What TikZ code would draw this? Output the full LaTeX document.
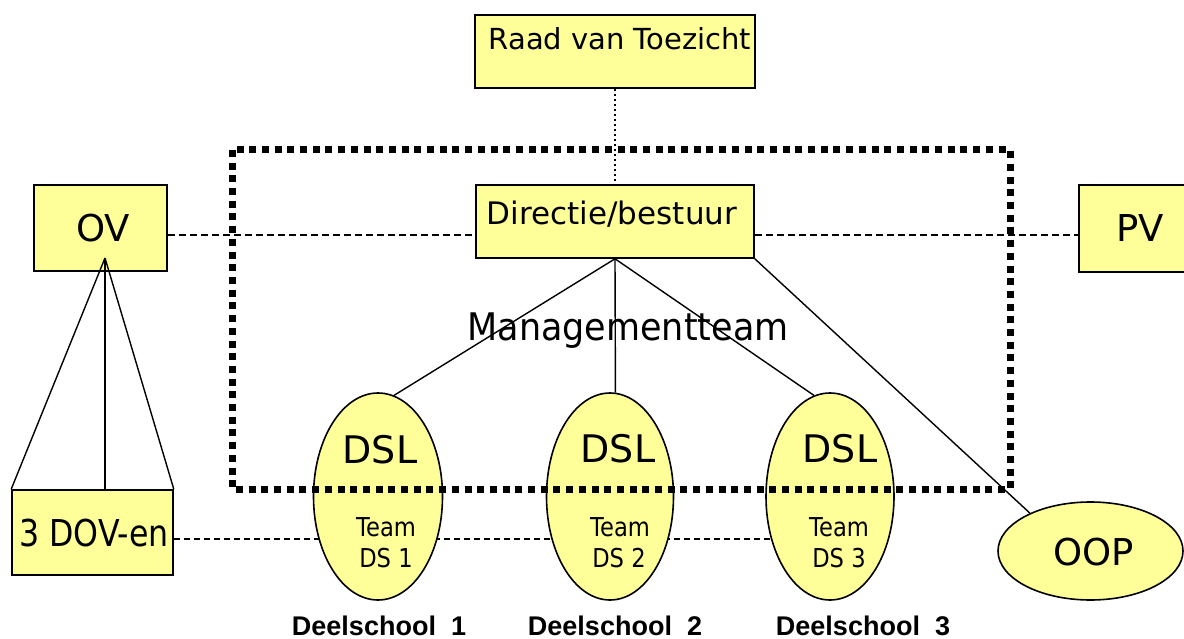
\documentclass[tikz,border=0pt]{standalone}
\usepackage{fontspec}
\setmainfont{DejaVu Sans}
\newfontfamily\labfont{Liberation Sans}
\usetikzlibrary{shapes.geometric}
\definecolor{yel}{HTML}{FFFF99}
\newcommand{\fsz}[1]{\fontsize{#1}{#1}\selectfont}
\begin{document}
\begin{tikzpicture}[x=1pt,y=-1pt,
  box/.style={rectangle, draw=black, line width=1.6pt, fill=yel, inner sep=0pt},
  ell/.style={ellipse, draw=black, line width=1.6pt, fill=yel, inner sep=0pt},
  txt/.style={anchor=base, inner sep=0pt},
  link/.style={line width=1.4pt},
  middash/.style={line width=2pt, dash pattern=on 7pt off 4pt},
  lowdash/.style={line width=1.4pt, dash pattern=on 6pt off 4pt},
  smalldot/.style={line width=2pt, dash pattern=on 2pt off 3pt},
  mtframe/.style={line width=7pt, dash pattern=on 7pt off 5.7pt}]
\useasboundingbox (0,0) rectangle (1184,639);
\clip (0,0) rectangle (1184,639);

% boxes
\node[box, minimum width=280pt, minimum height=73pt] (raad) at (615,51.5) {};
\node[box, minimum width=278pt, minimum height=73pt] (dir) at (615,221.5) {};
\node[box, minimum width=133pt, minimum height=86pt] (ov) at (100.5,228) {};
\node[box, minimum width=133pt, minimum height=87pt] (pv) at (1145.5,228.5) {};
\node[box, minimum width=161pt, minimum height=85pt] (dov) at (92.5,532.5) {};

% lower dashed line (behind ellipses)
\coordinate (tl) at (800,539);
\draw[lowdash] (dov.east |- tl) -- (tl);

% ellipses
\node[ell, minimum width=129pt, minimum height=207pt] (d1) at (378,496.5) {};
\node[ell, minimum width=127pt, minimum height=207pt] (d2) at (610,496.5) {};
\node[ell, minimum width=128pt, minimum height=207pt] (d3) at (830,496.5) {};
\node[ell, minimum width=185pt, minimum height=98pt] (oop) at (1090.5,551) {};

% texts
\node[txt] (traad) at (620,50) {\fsz{29}Raad van Toezicht};
\node[txt] (tdir) at (612,225) {\fsz{31}Directie/bestuur};
\node[txt] (tov) at (103,242) {\fsz{37}OV};
\node[txt] (tpv) at (1140,242) {\fsz{37}PV};
\node[txt] (tdov) at (94,546) {\fsz{37}\scalebox{0.855}[1]{3 DOV-en}};
\node[txt] (tmt) at (628,341) {\fsz{38}\scalebox{0.92}[1]{Managementteam}};
\node[txt] (tdsl1) at (380,463) {\fsz{38}DSL};
\node[txt] (tdsl2) at (618,462) {\fsz{38}DSL};
\node[txt] (tdsl3) at (840,462) {\fsz{38}DSL};
\node[txt] (tteam1) at (386,536) {\fsz{26}\scalebox{0.87}[1]{Team}};
\node[txt] (tds1) at (386,567) {\fsz{26}\scalebox{0.87}[1]{DS 1}};
\node[txt] (tteam2) at (620,536) {\fsz{26}\scalebox{0.87}[1]{Team}};
\node[txt] (tds2) at (619,567) {\fsz{26}\scalebox{0.87}[1]{DS 2}};
\node[txt] (tteam3) at (839,536) {\fsz{26}\scalebox{0.87}[1]{Team}};
\node[txt] (tds3) at (839,567) {\fsz{26}\scalebox{0.87}[1]{DS 3}};
\node[txt] (toop) at (1094,565) {\fsz{37}OOP};
\node[txt] (lab1) at (379,635) {\labfont\bfseries\fsz{27}Deelschool\ \ 1};
\node[txt] (lab2) at (615,635) {\labfont\bfseries\fsz{27}Deelschool\ \ 2};
\node[txt] (lab3) at (863,635) {\labfont\bfseries\fsz{27}Deelschool\ \ 3};

% horizontal dashed line
\coordinate (hl) at (0,235);
\draw[middash] (ov.east |- hl) -- (dir.west |- hl);
\draw[middash] (dir.east |- hl) -- (pv.west |- hl);

% dotted link raad - directie
\draw[smalldot] (raad.south) -- (dir.north);

% OV fan
\coordinate (ovb) at (105,258);
\draw[link] (ovb) -- (dov.north west);
\draw[link] (ovb) -- (ovb |- dov.north);
\draw[link] (ovb) -- (dov.north east);

% Directie links
\draw[link] (dir.south) -- (d1.81);
\draw[link] (dir.south) -- (d2.87);
\draw[link] (dir.south) -- (d3.99);
\draw[link] (dir.south east) -- (oop.148);

% management team frame
\coordinate (mt1) at (232,150);
\coordinate (mt2) at (1010,489);
\draw[mtframe] (mt1) rectangle (mt2);
\end{tikzpicture}
\end{document}
